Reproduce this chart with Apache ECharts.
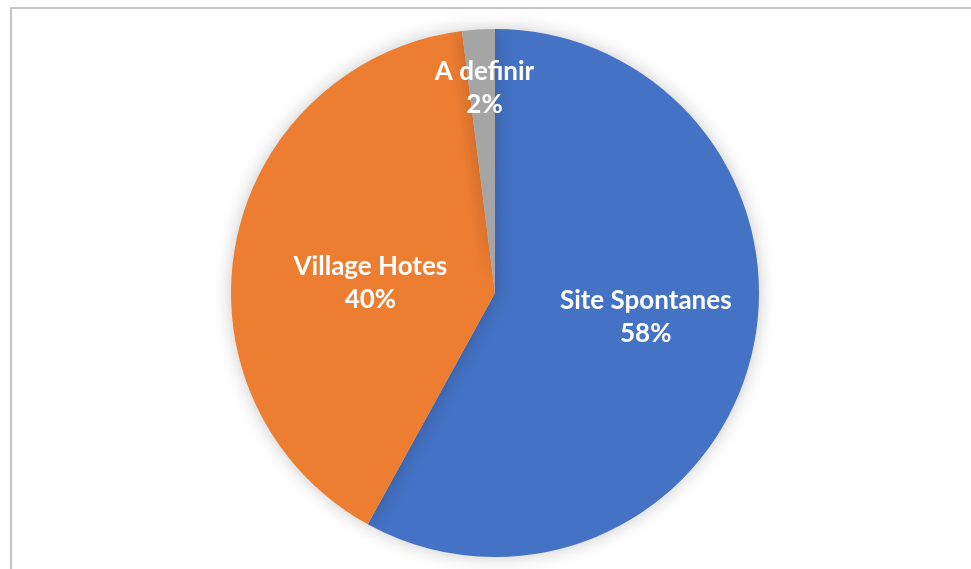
<!DOCTYPE html>
<html>
<head>
<meta charset="utf-8">
<script src="https://cdn.jsdelivr.net/npm/echarts@6/dist/echarts.min.js"></script>
<style>html,body{margin:0;padding:0;background:#fff;}#c{width:971px;height:569px;}</style>
</head>
<body>
<div id="c"></div>
<script>
const categories = ['Site Spontanes', 'Village Hotes', 'A definir'];
const values = [58, 40, 2];
const colors = ['#4472C4', '#ED7D31', '#A5A5A5'];

const chart = echarts.init(document.getElementById('c'), null, {renderer: 'canvas'});
chart.setOption({
  animation: false,
  backgroundColor: '#fff',
  graphic: [{
    type: 'rect',
    shape: {x: 11, y: 8, width: 1000, height: 620},
    style: {fill: 'none', stroke: '#c4c4c4', lineWidth: 2},
    z: -10
  }],
  series: [{
    type: 'pie',
    center: [495, 293],
    radius: [0, 264],
    startAngle: 90,
    clockwise: true,
    data: categories.map((n, i) => ({name: n, value: values[i], itemStyle: {color: colors[i]}})),
    itemStyle: {shadowBlur: 18, shadowColor: 'rgba(0,0,0,0.22)'},
    label: {
      show: true,
      position: 'inside',
      formatter: p => p.name + '\n' + p.value + '%',
      color: '#fff',
      fontFamily: 'Lato',
      fontWeight: 'bold',
      fontSize: 26,
      lineHeight: 33,
      align: 'center'
    },
    labelLine: {show: false},
    labelLayout: function (p) {
      if (p.dataIndex === 0) return {dx: 20, dy: -9};
      if (p.dataIndex === 1) return {dx: 8, dy: 15};
      if (p.dataIndex === 2) return {dx: -2, dy: -70};
    },
    emphasis: {disabled: true}
  }]
});
</script>
</body>
</html>
